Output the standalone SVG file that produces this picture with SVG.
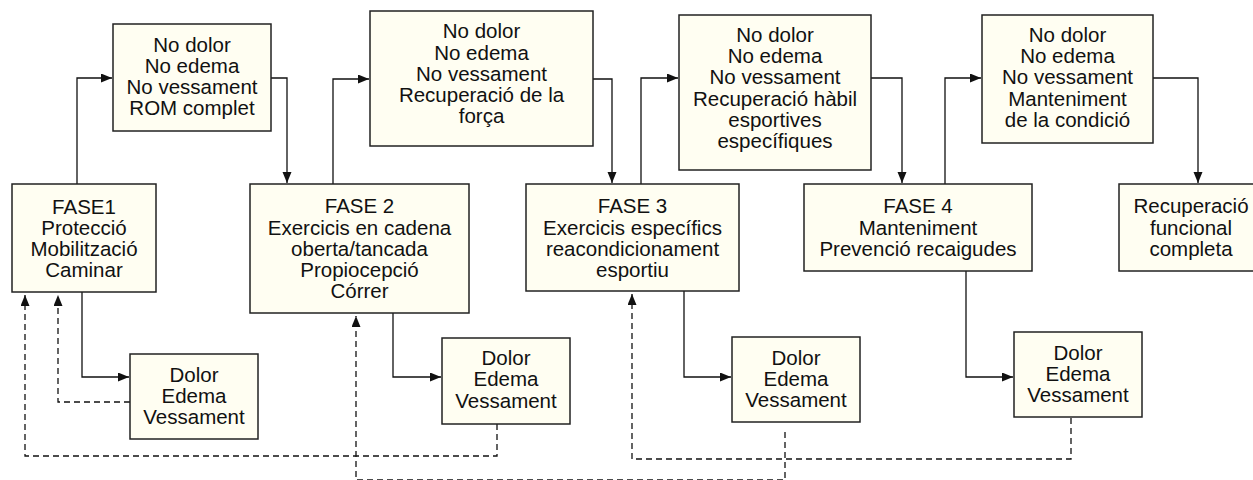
<svg xmlns="http://www.w3.org/2000/svg" width="1253" height="480" viewBox="0 0 1253 480">
<style>
.box{fill:#fffef2;stroke:#222;stroke-width:1.5}
.t{font-family:"Liberation Sans",Arial,Helvetica,sans-serif;font-size:20.5px;fill:#111;text-anchor:middle}
.c{fill:none;stroke:#111;stroke-width:1.3}
.d{fill:none;stroke:#111;stroke-width:1.3;stroke-dasharray:6 4}
</style>
<defs>
<marker id="ah" markerUnits="userSpaceOnUse" markerWidth="12" markerHeight="10" refX="11" refY="4.5" orient="auto">
<path d="M0,0 L11,4.5 L0,9 z" fill="#111" stroke="none"/>
</marker>
</defs>
<rect width="1253" height="480" fill="#fff"/>

<g id="connectors">
<path class="c" d="M77,184 V78 H112" marker-end="url(#ah)"/>
<path class="c" d="M271,78 H287 V183" marker-end="url(#ah)"/>
<path class="c" d="M333,184 V79 H369" marker-end="url(#ah)"/>
<path class="c" d="M593,79 H612 V183" marker-end="url(#ah)"/>
<path class="c" d="M641,184 V78 H678" marker-end="url(#ah)"/>
<path class="c" d="M871,78 H902 V183" marker-end="url(#ah)"/>
<path class="c" d="M945,184 V78 H981" marker-end="url(#ah)"/>
<path class="c" d="M1153,78 H1198 V183" marker-end="url(#ah)"/>
<path class="c" d="M82,292 V377 H129" marker-end="url(#ah)"/>
<path class="c" d="M393,313 V377 H441" marker-end="url(#ah)"/>
<path class="c" d="M684,291 V377 H731" marker-end="url(#ah)"/>
<path class="c" d="M966,271 V377 H1013" marker-end="url(#ah)"/>
<path class="d" d="M130,402 H58 V295" marker-end="url(#ah)"/>
<path class="d" d="M497,424 V456 H25 V295" marker-end="url(#ah)"/>
<path class="d" d="M785,432 V480 H356 V316" marker-end="url(#ah)"/>
<path class="d" d="M1071,418 V459 H632 V294" marker-end="url(#ah)"/>
</g>

<g id="top1">
<rect class="box" x="113" y="24" width="158" height="107"/>
<text class="t" x="192" y="52">No dolor</text>
<text class="t" x="192" y="73">No edema</text>
<text class="t" x="192" y="94">No vessament</text>
<text class="t" x="192" y="115">ROM complet</text>
</g>
<g id="top2">
<rect class="box" x="370" y="11" width="223" height="135"/>
<text class="t" x="481.5" y="38">No dolor</text>
<text class="t" x="481.5" y="60">No edema</text>
<text class="t" x="481.5" y="81">No vessament</text>
<text class="t" x="481.5" y="102">Recuperació de la</text>
<text class="t" x="481.5" y="123">força</text>
</g>
<g id="top3">
<rect class="box" x="679" y="15" width="192" height="155"/>
<text class="t" x="775" y="42">No dolor</text>
<text class="t" x="775" y="63">No edema</text>
<text class="t" x="775" y="84">No vessament</text>
<text class="t" x="775" y="106">Recuperació hàbil</text>
<text class="t" x="775" y="127">esportives</text>
<text class="t" x="775" y="148">específiques</text>
</g>
<g id="top4">
<rect class="box" x="982" y="15" width="171" height="128"/>
<text class="t" x="1067.5" y="42">No dolor</text>
<text class="t" x="1067.5" y="63">No edema</text>
<text class="t" x="1067.5" y="84">No vessament</text>
<text class="t" x="1067.5" y="106">Manteniment</text>
<text class="t" x="1067.5" y="127">de la condició</text>
</g>

<g id="fase1">
<rect class="box" x="12" y="184" width="144" height="108"/>
<text class="t" x="84" y="214">FASE1</text>
<text class="t" x="84" y="235">Protecció</text>
<text class="t" x="84" y="256">Mobilització</text>
<text class="t" x="84" y="277">Caminar</text>
</g>
<g id="fase2">
<rect class="box" x="250" y="184" width="219" height="129"/>
<text class="t" x="359.5" y="213">FASE 2</text>
<text class="t" x="359.5" y="235">Exercicis en cadena</text>
<text class="t" x="359.5" y="256">oberta/tancada</text>
<text class="t" x="359.5" y="277">Propiocepció</text>
<text class="t" x="359.5" y="298">Córrer</text>
</g>
<g id="fase3">
<rect class="box" x="526" y="184" width="213" height="107"/>
<text class="t" x="632.5" y="213">FASE 3</text>
<text class="t" x="632.5" y="235">Exercicis específics</text>
<text class="t" x="632.5" y="256">reacondicionament</text>
<text class="t" x="632.5" y="277">esportiu</text>
</g>
<g id="fase4">
<rect class="box" x="804" y="184" width="228" height="87"/>
<text class="t" x="918" y="213">FASE 4</text>
<text class="t" x="918" y="235">Manteniment</text>
<text class="t" x="918" y="256">Prevenció recaigudes</text>
</g>
<g id="recuperacio">
<rect class="box" x="1119" y="184" width="144" height="87"/>
<text class="t" x="1191" y="213">Recuperació</text>
<text class="t" x="1191" y="235">funcional</text>
<text class="t" x="1191" y="256">completa</text>
</g>

<g id="dolor1">
<rect class="box" x="130" y="354" width="128" height="85"/>
<text class="t" x="194" y="382">Dolor</text>
<text class="t" x="194" y="403">Edema</text>
<text class="t" x="194" y="424">Vessament</text>
</g>
<g id="dolor2">
<rect class="box" x="442" y="338" width="128" height="86"/>
<text class="t" x="506" y="365">Dolor</text>
<text class="t" x="506" y="386">Edema</text>
<text class="t" x="506" y="408">Vessament</text>
</g>
<g id="dolor3">
<rect class="box" x="732" y="337" width="128" height="85"/>
<text class="t" x="796" y="365">Dolor</text>
<text class="t" x="796" y="386">Edema</text>
<text class="t" x="796" y="407">Vessament</text>
</g>
<g id="dolor4">
<rect class="box" x="1014" y="332" width="128" height="85"/>
<text class="t" x="1078" y="360">Dolor</text>
<text class="t" x="1078" y="381">Edema</text>
<text class="t" x="1078" y="402">Vessament</text>
</g>
</svg>
